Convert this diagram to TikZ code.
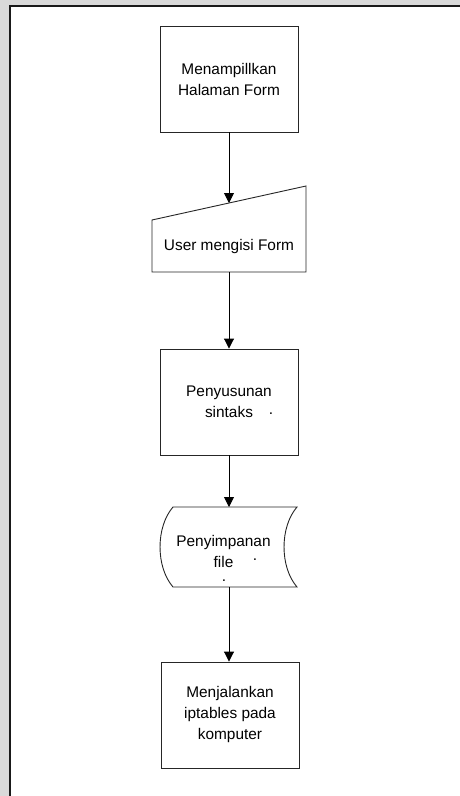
\documentclass[tikz,border=0pt]{standalone}
\usepackage{fontspec}
\setmainfont{Liberation Sans}
\usetikzlibrary{arrows.meta}
\begin{document}
\begin{tikzpicture}[x=1pt,y=-1pt,
  every node/.style={font=\fontsize{15.4}{21}\selectfont},
  procbox/.style={draw=black!85,line width=0.9pt,minimum width=138pt,minimum height=106pt,align=center,inner sep=0pt},
  shapeline/.style={draw=black!85,line width=0.9pt,line join=miter},
  flow/.style={draw=black,line width=0.9pt,-{Triangle[length=10pt,width=10pt]}},
  txt/.style={align=center,inner sep=0pt},
  dot/.style={inner sep=0pt}]
% page area and frame
\useasboundingbox (0,0) rectangle (460,796);
\clip (0,0) rectangle (460,796);
\fill[gray!30] (0,0) rectangle (460,796);
\fill[white] (9.5,6) rectangle (470,806);
\draw[line width=2pt,black!90] (9.5,806) -- (9.5,6) -- (470,6);

% step 1: process
\node[procbox] (n1) at (229,79) {Menampillkan\\Halaman Form};

% step 2: manual input
\draw[shapeline] (152,220) -- (306,186) -- (306,272) -- (152,272) -- cycle;
\node[txt] (n2) at (229,247) {User mengisi Form};
\coordinate (n2top) at (229,203);
\coordinate (n2bot) at (229,272);

% step 3: process
\node[procbox] (n3) at (229,402) {Penyusunan\\sintaks};
\node[dot] (d3) at (271,414) {.};

% step 4: stored data
\draw[shapeline] (173,507) -- (297,507)
  .. controls (279.7,527) and (279.7,567) .. (297,587) -- (173,587)
  .. controls (155.7,567) and (155.7,527) .. (173,507) -- cycle;
\node[txt] (n4) at (223.5,551) {Penyimpanan\\file};
\node[dot] (d4a) at (255,560) {.};
\node[dot] (d4b) at (224,581) {.};
\coordinate (n4top) at (229,507);
\coordinate (n4bot) at (229,587);

% step 5: process
\node[procbox] (n5) at (230,715) {Menjalankan\\iptables pada\\komputer};

% connectors
\draw[flow] (n1.south) -- (n2top);
\draw[flow] (n2bot) -- (n3.north);
\draw[flow] (n3.south) -- (n4top);
\draw[flow] (n4bot) -- (n4bot |- n5.north);
\end{tikzpicture}
\end{document}
